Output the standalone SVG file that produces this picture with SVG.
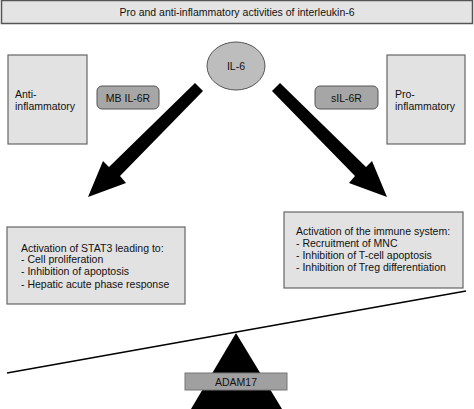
<svg xmlns="http://www.w3.org/2000/svg" width="474" height="409" viewBox="0 0 474 409">
<style>
text{font-family:"Liberation Sans",Arial,sans-serif;font-size:10.5px;fill:#111}
.box{fill:#e2e2e2;stroke:#666;stroke-width:1.2}
.pill{fill:#a6a6a6;stroke:#555;stroke-width:1}
.mid{text-anchor:middle}
</style>
<rect width="474" height="409" fill="#fff"/>
<g id="title">
<rect x="1.5" y="0.5" width="471" height="23" fill="#e4e4e4" stroke="#555" stroke-width="1.5"/>
<text x="237" y="16" class="mid">Pro and anti-inflammatory activities of interleukin-6</text>
</g>
<g id="il6">
<ellipse cx="236" cy="66" rx="29" ry="24" fill="#bdbdbd" stroke="#555" stroke-width="1"/>
<text x="236" y="70" class="mid">IL-6</text>
</g>
<g id="anti">
<rect x="8" y="55" width="79" height="89" class="box"/>
<text x="15" y="98">Anti-</text>
<text x="15" y="110">inflammatory</text>
</g>
<g id="pro">
<rect x="387" y="55" width="78" height="89" class="box"/>
<text x="395" y="98">Pro-</text>
<text x="395" y="110">inflammatory</text>
</g>
<g id="mbil6r">
<rect x="97" y="86" width="62" height="23" rx="5" class="pill"/>
<text x="128" y="101.5" class="mid">MB IL-6R</text>
</g>
<g id="sil6r">
<rect x="315" y="86" width="63" height="23" rx="5" class="pill"/>
<text x="346.5" y="101.5" class="mid">sIL-6R</text>
</g>
<g id="connectors">
<polygon points="195,83 203,91 120,176 126,183 88,197 103,161 109,167" fill="#000"/>
<polygon points="280,83 272,91 355,176 349,183 387,197 372,161 366,167" fill="#000"/>
<line x1="7" y1="373" x2="466" y2="291" stroke="#000" stroke-width="1.5"/>
</g>
<g id="stat3">
<rect x="7" y="227" width="178" height="77" class="box"/>
<text x="21" y="252">Activation of STAT3 leading to:</text>
<text x="21" y="263">- Cell proliferation</text>
<text x="21" y="275">- Inhibition of apoptosis</text>
<text x="21" y="288">- Hepatic acute phase response</text>
</g>
<g id="immune">
<rect x="284" y="212" width="179" height="76" class="box"/>
<text x="296" y="235">Activation of the immune system:</text>
<text x="296" y="247">- Recruitment of MNC</text>
<text x="296" y="259">- Inhibition of T-cell apoptosis</text>
<text x="296" y="271">- Inhibition of Treg differentiation</text>
</g>
<g id="fulcrum">
<polygon points="236,333 282,409 191,409" fill="#000"/>
</g>
<g id="adam17">
<rect x="185" y="373" width="102" height="17" fill="#a0a0a0" stroke="#777" stroke-width="1"/>
<text x="236" y="385.5" class="mid">ADAM17</text>
</g>
</svg>
